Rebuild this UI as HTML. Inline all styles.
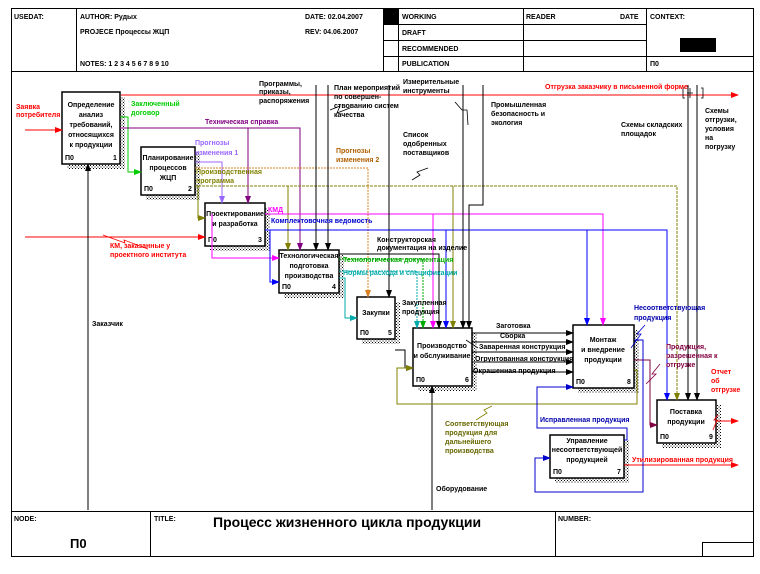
<!DOCTYPE html>
<html><head><meta charset="utf-8"><style>
body{margin:0;background:#fff}
svg text{font-family:"Liberation Sans","Noto Sans CJK SC",sans-serif;font-weight:bold;font-size:7px}
</style></head><body>
<svg width="760" height="569" viewBox="0 0 760 569" xmlns="http://www.w3.org/2000/svg">
<defs>
<pattern id="sh" width="3" height="3" patternUnits="userSpaceOnUse"><rect width="3" height="3" fill="#fff"/><rect width="1" height="1" fill="#000"/><rect x="1.5" y="1.5" width="1" height="1" fill="#000"/></pattern>
<marker id="a" markerWidth="8" markerHeight="6" refX="7" refY="3" orient="auto" markerUnits="userSpaceOnUse"><path d="M0,0L8,3L0,6z" fill="context-stroke"/></marker>
</defs>
<g fill="none" stroke="#000" stroke-width="1">
<rect x="11.5" y="8.5" width="742" height="548"/>
<line x1="11" y1="71.5" x2="754" y2="71.5"/>
<line x1="76.5" y1="8" x2="76.5" y2="71"/>
<line x1="383.5" y1="8" x2="383.5" y2="71"/>
<line x1="398.5" y1="8" x2="398.5" y2="71"/>
<line x1="523.5" y1="8" x2="523.5" y2="71"/>
<line x1="646.5" y1="8" x2="646.5" y2="71"/>
<line x1="383" y1="24.5" x2="646" y2="24.5"/>
<line x1="383" y1="40.5" x2="646" y2="40.5"/>
<line x1="383" y1="56.5" x2="754" y2="56.5"/>
<line x1="11" y1="511.5" x2="754" y2="511.5"/>
<line x1="150.5" y1="511" x2="150.5" y2="557"/>
<line x1="555.5" y1="511" x2="555.5" y2="557"/>
<polyline points="702.5,557 702.5,542.5 754,542.5"/>
</g>
<rect x="383" y="8" width="15" height="16" fill="#000"/>
<rect x="680" y="38" width="36" height="14" fill="#000"/>
<text x="14" y="19">USEDAT:</text>
<text x="80" y="19">AUTHOR:  Рудых</text>
<text x="80" y="34">PROJECE  Процессы ЖЦП</text>
<text x="80" y="66">NOTES:  1  2  3  4  5  6  7  8  9  10</text>
<text x="305" y="19">DATE: 02.04.2007</text>
<text x="305" y="34">REV:   04.06.2007</text>
<text x="402" y="19">WORKING</text><text x="402" y="35">DRAFT</text><text x="402" y="51">RECOMMENDED</text><text x="402" y="66">PUBLICATION</text>
<text x="526" y="19">READER</text><text x="620" y="19">DATE</text><text x="650" y="19">CONTEXT:</text><text x="650" y="66">П0</text>
<text x="14" y="521">NODE:</text><text x="154" y="521">TITLE:</text><text x="558" y="521">NUMBER:</text>
<text x="70" y="548" style="font-size:13px">П0</text>
<text x="213" y="527" style="font-size:14px">Процесс жизненного цикла продукции</text>

<!-- shadows -->
<g fill="url(#sh)">
<rect x="67" y="97" width="58" height="72"/><rect x="146" y="152" width="54" height="48"/>
<rect x="210" y="208" width="60" height="43"/><rect x="284" y="255" width="60" height="43"/>
<rect x="362" y="302" width="38" height="42"/><rect x="418" y="333" width="59" height="58"/>
<rect x="578" y="330" width="61" height="63"/><rect x="662" y="405" width="59" height="43"/>
<rect x="555" y="440" width="74" height="43"/>
</g>
<g fill="#fff" stroke="#000" stroke-width="1.5">
<rect x="62" y="92" width="58" height="72"/><rect x="141" y="147" width="54" height="48"/>
<rect x="205" y="203" width="60" height="43"/><rect x="279" y="250" width="60" height="43"/>
<rect x="357" y="297" width="38" height="42"/><rect x="413" y="328" width="59" height="58"/>
<rect x="573" y="325" width="61" height="63"/><rect x="657" y="400" width="59" height="43"/>
<rect x="550" y="435" width="74" height="43"/>
</g>
<g text-anchor="middle">
<text x="91" y="107">Определение</text><text x="91" y="117">анализ</text><text x="91" y="127">требований,</text><text x="91" y="137">относящихся</text><text x="91" y="147">к продукции</text>
<text x="168" y="160">Планирование</text><text x="168" y="170">процессов</text><text x="168" y="180">ЖЦП</text>
<text x="235" y="216">Проектирование</text><text x="235" y="226">и разработка</text>
<text x="309" y="258">Технологическая</text><text x="309" y="268">подготовка</text><text x="309" y="278">производства</text>
<text x="376" y="315">Закупки</text>
<text x="442" y="348">Производство</text><text x="442" y="358">и обслуживание</text>
<text x="603" y="342">Монтаж</text><text x="603" y="352">и внедрение</text><text x="603" y="362">продукции</text>
<text x="686" y="414">Поставка</text><text x="686" y="424">продукции</text>
<text x="587" y="443">Управление</text><text x="587" y="452">несоответствующей</text><text x="587" y="462">продукцией</text>
</g>
<g>
<text x="65" y="160">П0</text><text x="113" y="160">1</text>
<text x="144" y="191">П0</text><text x="188" y="191">2</text>
<text x="208" y="242">П0</text><text x="258" y="242">3</text>
<text x="282" y="289">П0</text><text x="332" y="289">4</text>
<text x="360" y="335">П0</text><text x="388" y="335">5</text>
<text x="416" y="382">П0</text><text x="465" y="382">6</text>
<text x="576" y="384">П0</text><text x="627" y="384">8</text>
<text x="660" y="439">П0</text><text x="709" y="439">9</text>
<text x="553" y="474">П0</text><text x="617" y="474">7</text>
</g>

<!-- arrows -->
<g fill="none" stroke-width="1" marker-end="url(#a)">
<path d="M121,95H738" stroke="#f00"/>
<path d="M25,130H62" stroke="#f00"/>
<path d="M25,237H205" stroke="#f00"/>
<path d="M716,421H738" stroke="#f00"/>
<path d="M624,465H738" stroke="#f00"/>
<path d="M88,510V164" stroke="#000"/>
<path d="M432,510V386" stroke="#000"/>
<path d="M120,117H128V172H141" stroke="#0c0"/>
<path d="M120,128H300V250" stroke="#800080"/>
<path d="M248,128V203" stroke="#800080"/>
<path d="M195,162H222V203" stroke="#9966ff"/>
<path d="M195,168H368V297" stroke="#d98020" stroke-dasharray="2,1"/>
<path d="M195,186H198V218H205" stroke="#808000"/>
<path d="M198,186H677V400" stroke="#808000" stroke-dasharray="3,1"/>
<path d="M288,186V250" stroke="#808000"/>
<path d="M453,186V328" stroke="#808000"/>
<path d="M265,214H603V325" stroke="#f0f"/>
<path d="M433,214V328" stroke="#f0f"/>
<path d="M212,214V258H279" stroke="#f0f"/>
<path d="M265,230H667V400" stroke="#00f"/>
<path d="M446,230V328" stroke="#00f"/>
<path d="M587,230V325" stroke="#00f"/>
<path d="M270,230V282H279" stroke="#00f"/>
<path d="M316,85V250" stroke="#000"/><path d="M328,85V250" stroke="#000"/>
<path d="M389,85V297" stroke="#000"/>
<path d="M463,85V328" stroke="#000"/>
<path d="M483,85V205H469V328" stroke="#000"/>
<path d="M688,85V400" stroke="#000"/><path d="M697,85V400" stroke="#000"/>
<path d="M339,254H439V328" stroke="#000"/>
<path d="M339,259H423V328" stroke="#0a0" stroke-dasharray="2,1"/>
<path d="M339,271H417V328" stroke="#0aa" stroke-dasharray="2,1"/>
<path d="M339,278H345V318H357" stroke="#0aa"/>
<path d="M395,350H405V368H413" stroke="#000"/>
<path d="M472,333H573" stroke="#000"/><path d="M472,342H573" stroke="#000"/>
<path d="M472,352H573" stroke="#000"/><path d="M472,362H573" stroke="#000"/>
<path d="M472,372H573" stroke="#000"/>
<path d="M634,360H650V425H657" stroke="#800040"/>
<path d="M634,370H637V404H397V368H413" stroke="#808000"/>
<path d="M634,340H643V492H535V458H550" stroke="#00c"/>
<path d="M624,440H627V428H537V387H573" stroke="#00c"/>
</g>
<g fill="none" stroke="#000" stroke-width="0.8">
<path d="M685,88H683V98H685M690,88V98M687,93H693M701,88H703V98H701"/>
<path d="M330,110L340,106L337,113L350,108"/>
<path d="M455,102L462,110L467,110L468,125"/>
<path d="M412,180L420,175L417,172L428,168"/>
<path d="M103,235L125,243L124,240L148,249" stroke="#f00"/>
<path d="M466,340L478,348"/>
<path d="M492,406L484,410L487,413L476,420" stroke="#808000"/>
<path d="M645,325L637,334L641,334L631,348" stroke="#00c"/>
<path d="M660,364L652,374L656,374L646,384" stroke="#800040"/>
<path d="M718,415L714,420L717,420L713,430" stroke="#f00"/>
</g>
<!-- labels -->
<g>
<text x="16" y="109" fill="#f00">Заявка</text><text x="16" y="117" fill="#f00">потребителя</text>
<text x="131" y="106" fill="#0c0">Заключенный</text><text x="131" y="115" fill="#0c0">договор</text>
<text x="205" y="124" fill="#800080">Техническая справка</text>
<text x="195" y="145" fill="#9966ff">Прогнозы</text><text x="195" y="155" fill="#9966ff">изменения 1</text>
<text x="196" y="174" fill="#808000">Производственная</text><text x="196" y="183" fill="#808000">программа</text>
<text x="259" y="86">Программы,</text><text x="259" y="94">приказы,</text><text x="259" y="103">распоряжения</text>
<text x="334" y="90">План мероприятий</text><text x="334" y="99">по совершен-</text><text x="334" y="108">ствованию систем</text><text x="334" y="117">качества</text>
<text x="403" y="84">Измерительные</text><text x="403" y="93">инструменты</text>
<text x="491" y="107">Промышленная</text><text x="491" y="116">безопасность и</text><text x="491" y="125">экология</text>
<text x="403" y="137">Список</text><text x="403" y="146">одобренных</text><text x="403" y="155">поставщиков</text>
<text x="336" y="153" fill="#b06000">Прогнозы</text><text x="336" y="162" fill="#b06000">изменения 2</text>
<text x="545" y="89" fill="#f00">Отгрузка заказчику в письменной форме</text>
<text x="621" y="127">Схемы складских</text><text x="621" y="136">площадок</text>
<text x="705" y="113">Схемы</text><text x="705" y="122">отгрузки,</text><text x="705" y="131">условия</text><text x="705" y="140">на</text><text x="705" y="149">погрузку</text>
<text x="268" y="212" fill="#f0f">КМД</text>
<text x="271" y="223" fill="#00c">Комплектовочная ведомость</text>
<text x="377" y="242">Конструкторская</text><text x="377" y="250">документация на изделие</text>
<text x="343" y="262" fill="#0a0">Технологическая документация</text>
<text x="343" y="275" fill="#0aa">Нормы расхода и спецификации</text>
<text x="110" y="248" fill="#f00">КМ, заказанные у</text><text x="110" y="257" fill="#f00">проектного института</text>
<text x="92" y="326">Заказчик</text>
<text x="402" y="305">Закупленная</text><text x="402" y="314">продукция</text>
<text x="496" y="328">Заготовка</text><text x="500" y="338">Сборка</text>
<text x="479" y="349">Заваренная конструкция</text><text x="475" y="361">Огрунтованная конструкция</text>
<text x="473" y="373">Окрашенная продукция</text>
<text x="634" y="310" fill="#00a">Несоответствующая</text><text x="634" y="320" fill="#00a">продукция</text>
<text x="666" y="349" fill="#800040">Продукция,</text><text x="666" y="358" fill="#800040">разрешенная к</text><text x="666" y="367" fill="#800040">отгрузке</text>
<text x="711" y="374" fill="#f00">Отчет</text><text x="711" y="383" fill="#f00">об</text><text x="711" y="392" fill="#f00">отгрузке</text>
<text x="540" y="422" fill="#00a">Исправленная продукция</text>
<text x="445" y="426" fill="#660">Соответствующая</text><text x="445" y="435" fill="#660">продукция для</text><text x="445" y="444" fill="#660">дальнейшего</text><text x="445" y="453" fill="#660">производства</text>
<text x="632" y="462" fill="#f00">Утилизированная продукция</text>
<text x="436" y="491">Оборудование</text>
</g>
</svg>
</body></html>
